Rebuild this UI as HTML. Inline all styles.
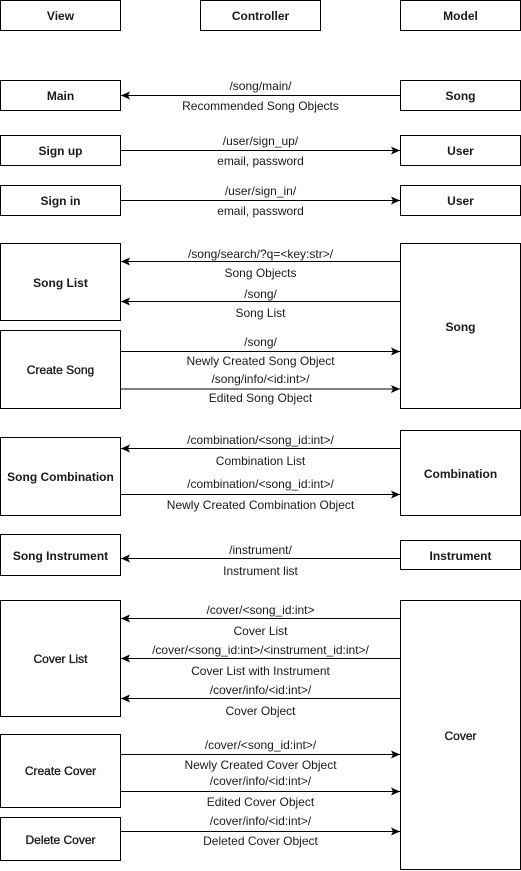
<!DOCTYPE html>
<html><head><meta charset="utf-8"><style>
html,body{margin:0;padding:0;background:#fff;}
svg{display:block;}
text{font-family:"Liberation Sans",Arial,sans-serif;font-size:12px;fill:#1a1a1a;}
.b{font-weight:bold;}
.m{stroke:#1a1a1a;stroke-width:0.35;}
rect{fill:#fff;stroke:#000;stroke-width:1;}
line{stroke:#000;stroke-width:1;}
</style></head><body>
<svg width="521" height="871" viewBox="0 0 521 871" xmlns="http://www.w3.org/2000/svg">
<defs>
<marker id="a" markerWidth="10" markerHeight="8" refX="9" refY="4" orient="auto" markerUnits="userSpaceOnUse">
<path d="M0,0 L9,4 L0,8 L2,4 Z" fill="#000"/>
</marker>
</defs>
<rect x="0.5" y="0.5" width="120" height="30"/><text class="b" x="60.5" y="20" text-anchor="middle">View</text>
<rect x="200.5" y="0.5" width="120" height="30"/><text class="b" x="260.5" y="20" text-anchor="middle">Controller</text>
<rect x="400.5" y="0.5" width="120" height="30"/><text class="b" x="460.5" y="20" text-anchor="middle">Model</text>

<rect x="0.5" y="80.5" width="120" height="30"/><text class="b" x="60.5" y="100" text-anchor="middle">Main</text>
<rect x="400.5" y="80.5" width="120" height="30"/><text class="b" x="460.5" y="100" text-anchor="middle">Song</text>
<line x1="400" y1="95.5" x2="121" y2="95.5" marker-end="url(#a)"/>
<text x="260.5" y="90" text-anchor="middle">/song/main/</text>
<text x="260.5" y="110" text-anchor="middle">Recommended Song Objects</text>

<rect x="0.5" y="135.5" width="120" height="30"/><text class="b" x="60.5" y="155" text-anchor="middle">Sign up</text>
<rect x="400.5" y="135.5" width="120" height="30"/><text class="b" x="460.5" y="155" text-anchor="middle">User</text>
<line x1="121" y1="150.5" x2="400" y2="150.5" marker-end="url(#a)"/>
<text x="260.5" y="145" text-anchor="middle">/user/sign_up/</text>
<text x="260.5" y="165" text-anchor="middle">email, password</text>

<rect x="0.5" y="185.5" width="120" height="30"/><text class="b" x="60.5" y="205" text-anchor="middle">Sign in</text>
<rect x="400.5" y="185.5" width="120" height="30"/><text class="b" x="460.5" y="205" text-anchor="middle">User</text>
<line x1="121" y1="200.5" x2="400" y2="200.5" marker-end="url(#a)"/>
<text x="260.5" y="195" text-anchor="middle">/user/sign_in/</text>
<text x="260.5" y="215" text-anchor="middle">email, password</text>

<rect x="0.5" y="243.5" width="120" height="77"/><text class="b" x="60.5" y="287" text-anchor="middle">Song List</text>
<rect x="0.5" y="330.5" width="120" height="78"/><text class="m" x="60.5" y="374" text-anchor="middle">Create Song</text>
<rect x="400.5" y="243.5" width="120" height="165"/><text class="b" x="460.5" y="331" text-anchor="middle">Song</text>
<line x1="400" y1="261.5" x2="121" y2="261.5" marker-end="url(#a)"/>
<text x="260.5" y="258" text-anchor="middle">/song/search/?q=&lt;key:str&gt;/</text>
<text x="260.5" y="277" text-anchor="middle">Song Objects</text>
<line x1="400" y1="301.5" x2="121" y2="301.5" marker-end="url(#a)"/>
<text x="260.5" y="298" text-anchor="middle">/song/</text>
<text x="260.5" y="317" text-anchor="middle">Song List</text>
<line x1="121" y1="351.5" x2="400" y2="351.5" marker-end="url(#a)"/>
<text x="260.5" y="346" text-anchor="middle">/song/</text>
<text x="260.5" y="365" text-anchor="middle">Newly Created Song Object</text>
<line x1="121" y1="389" x2="400" y2="389" marker-end="url(#a)"/>
<text x="260.5" y="383" text-anchor="middle">/song/info/&lt;id:int&gt;/</text>
<text x="260.5" y="402" text-anchor="middle">Edited Song Object</text>

<rect x="0.5" y="437.5" width="120" height="78"/><text class="b" x="60.5" y="481" text-anchor="middle">Song Combination</text>
<rect x="400.5" y="430.5" width="120" height="85"/><text class="b" x="460.5" y="478" text-anchor="middle">Combination</text>
<line x1="400" y1="448.5" x2="121" y2="448.5" marker-end="url(#a)"/>
<text x="260.5" y="444" text-anchor="middle">/combination/&lt;song_id:int&gt;/</text>
<text x="260.5" y="465" text-anchor="middle">Combination List</text>
<line x1="121" y1="494.5" x2="400" y2="494.5" marker-end="url(#a)"/>
<text x="260.5" y="488" text-anchor="middle">/combination/&lt;song_id:int&gt;/</text>
<text x="260.5" y="509" text-anchor="middle">Newly Created Combination Object</text>

<rect x="0.5" y="534.5" width="120" height="41"/><text class="b" x="60.5" y="560" text-anchor="middle">Song Instrument</text>
<rect x="400.5" y="540.5" width="120" height="29"/><text class="b" x="460.5" y="560" text-anchor="middle">Instrument</text>
<line x1="400" y1="558.5" x2="121" y2="558.5" marker-end="url(#a)"/>
<text x="260.5" y="554" text-anchor="middle">/instrument/</text>
<text x="260.5" y="575" text-anchor="middle">Instrument list</text>

<rect x="0.5" y="600.5" width="120" height="116"/><text class="m" x="60.5" y="663" text-anchor="middle">Cover List</text>
<rect x="0.5" y="734.5" width="120" height="73"/><text class="m" x="60.5" y="775" text-anchor="middle">Create Cover</text>
<rect x="0.5" y="817.5" width="120" height="43"/><text class="m" x="60.5" y="844" text-anchor="middle">Delete Cover</text>
<rect x="400.5" y="600.5" width="120" height="269"/><text class="m" x="460.5" y="740" text-anchor="middle">Cover</text>
<line x1="400" y1="618.5" x2="121" y2="618.5" marker-end="url(#a)"/>
<text x="260.5" y="614" text-anchor="middle">/cover/&lt;song_id:int&gt;</text>
<text x="260.5" y="635" text-anchor="middle">Cover List</text>
<line x1="400" y1="658.5" x2="121" y2="658.5" marker-end="url(#a)"/>
<text x="260.5" y="654" text-anchor="middle">/cover/&lt;song_id:int&gt;/&lt;instrument_id:int&gt;/</text>
<text x="260.5" y="675" text-anchor="middle">Cover List with Instrument</text>
<line x1="400" y1="698.5" x2="121" y2="698.5" marker-end="url(#a)"/>
<text x="260.5" y="694" text-anchor="middle">/cover/info/&lt;id:int&gt;/</text>
<text x="260.5" y="715" text-anchor="middle">Cover Object</text>
<line x1="121" y1="754.5" x2="400" y2="754.5" marker-end="url(#a)"/>
<text x="260.5" y="749" text-anchor="middle">/cover/&lt;song_id:int&gt;/</text>
<text x="260.5" y="769" text-anchor="middle">Newly Created Cover Object</text>
<line x1="121" y1="791.5" x2="400" y2="791.5" marker-end="url(#a)"/>
<text x="260.5" y="785" text-anchor="middle">/cover/info/&lt;id:int&gt;/</text>
<text x="260.5" y="806" text-anchor="middle">Edited Cover Object</text>
<line x1="121" y1="831.5" x2="400" y2="831.5" marker-end="url(#a)"/>
<text x="260.5" y="825" text-anchor="middle">/cover/info/&lt;id:int&gt;/</text>
<text x="260.5" y="845" text-anchor="middle">Deleted Cover Object</text>
</svg>
</body></html>
